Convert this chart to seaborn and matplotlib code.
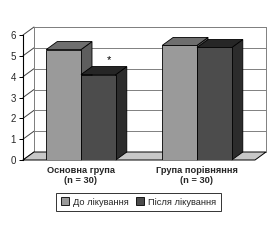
import matplotlib
matplotlib.use("Agg")
import matplotlib.pyplot as plt
import seaborn as sns
import pandas as pd
from matplotlib.patches import Polygon, Patch
from matplotlib.lines import Line2D

groups = ["Основна група\n(n = 30)", "Група порівняння\n(n = 30)"]
periods = ["До лікування", "Після лікування"]
before = [5.3, 5.5]
after = [4.1, 5.4]
yticks = [0, 1, 2, 3, 4, 5, 6]
front_colors = ["#9a9a9a", "#4c4c4c"]
top_colors = ["#6e6e6e", "#262626"]
side_colors = ["#5e5e5e", "#2c2c2c"]

df = pd.DataFrame({
    "group": groups * 2,
    "period": [periods[0]] * 2 + [periods[1]] * 2,
    "value": before + after,
})

sns.set_theme(style="white")
plt.rcParams["font.family"] = ["Liberation Sans", "DejaVu Sans"]

W, H = 280, 240
fig = plt.figure(figsize=(W / 100, H / 100), dpi=100)
ax_l, ax_b, ax_w, ax_h = 23, 80, 232, 125
ax = fig.add_axes([ax_l / W, ax_b / H, ax_w / W, ax_h / H])

sns.barplot(data=df, x="group", y="value", hue="period", palette=front_colors,
            width=0.6, edgecolor="black", linewidth=0.6, legend=False,
            saturation=1, ax=ax)
bars = [p for p in ax.patches]

ax.set_xlim(-0.5, 1.5)
ax.set_ylim(0, 6)
ax.set_yticks(yticks)
ax.set_xlabel("")
ax.set_ylabel("")
ax.set_xticks([0, 1])
ax.set_xticklabels(groups, fontweight="bold", fontsize=6.7, linespacing=1.2)
for s in ["top", "right", "bottom"]:
    ax.spines[s].set_visible(False)
ax.spines["left"].set_color("black")
ax.spines["left"].set_linewidth(0.8)
ax.tick_params(axis="y", direction="out", length=3, width=0.7, color="black",
               labelsize=7, pad=2, left=True)
ax.tick_params(axis="x", length=0, pad=4)
ax.set_xticks([-0.5, 0.5, 1.5], minor=True)
ax.tick_params(axis="x", which="minor", length=3, width=0.7, color="black", direction="out")

# 3D offset (pixels -> data units)
off_px_x, off_px_y = 11, 8
dx = off_px_x / ax_w * 2.0
dy = off_px_y / ax_h * 6.0
x0, x1 = -0.5, 1.5

# back wall
ax.add_patch(Polygon([(x0 + dx, dy), (x1 + dx, dy), (x1 + dx, 6 + dy), (x0 + dx, 6 + dy)],
                     closed=True, facecolor="white", edgecolor="#808080", lw=0.7,
                     zorder=0.2, clip_on=False))
# side wall top edge and gridlines
for yv in yticks:
    ax.add_line(Line2D([x0, x0 + dx], [yv, yv + dy], color="#404040", lw=0.7,
                       zorder=0.4, clip_on=False))
    if yv > 0:
        ax.add_line(Line2D([x0 + dx, x1 + dx], [yv + dy, yv + dy], color="#808080",
                           lw=0.7, zorder=0.4, clip_on=False))
ax.add_line(Line2D([x0 + dx, x0 + dx], [dy, 6 + dy], color="#808080", lw=0.7,
                   zorder=0.4, clip_on=False))
# floor
ax.add_patch(Polygon([(x0, 0), (x1, 0), (x1 + dx, dy), (x0 + dx, dy)], closed=True,
                     facecolor="#c8c8c8", edgecolor="black", lw=0.7, zorder=0.6,
                     clip_on=False))

# 3D bar faces
bars_sorted = sorted(bars, key=lambda p: p.get_x())
for i, p in enumerate(bars_sorted):
    bx, bw, bh = p.get_x(), p.get_width(), p.get_height()
    k = 0 if abs(p.get_facecolor()[0] - matplotlib.colors.to_rgba(front_colors[0])[0]) < 0.05 else 1
    z = 2 + i * 0.1
    ax.add_patch(Polygon([(bx + bw, 0), (bx + bw, bh), (bx + bw + dx, bh + dy), (bx + bw + dx, dy)],
                         closed=True, facecolor=side_colors[k], edgecolor="black", lw=0.6,
                         zorder=z, clip_on=False))
    ax.add_patch(Polygon([(bx, bh), (bx + bw, bh), (bx + bw + dx, bh + dy), (bx + dx, bh + dy)],
                         closed=True, facecolor=top_colors[k], edgecolor="black", lw=0.6,
                         zorder=z, clip_on=False))
    p.set_zorder(z + 0.05)

# significance mark above "after" bar of first group
p2 = [p for p in bars_sorted if abs(p.get_height() - after[0]) < 1e-9][0]
ax.text(p2.get_x() + p2.get_width() / 2 + dx, after[0] + dy + 0.3, "*",
        ha="center", va="center", fontsize=8, color="black", zorder=5)

handles = [Patch(facecolor=front_colors[0], edgecolor="black", lw=0.6),
           Patch(facecolor=front_colors[1], edgecolor="black", lw=0.6)]
leg = fig.legend(handles, periods, loc="center", bbox_to_anchor=(138.5 / W, 1 - 202 / H),
                 ncol=2, fontsize=6.7, frameon=True, fancybox=False, edgecolor="black",
                 handlelength=0.9, handleheight=0.9, handletextpad=0.4, columnspacing=0.8,
                 borderpad=0.5, borderaxespad=0)
leg.get_frame().set_linewidth(0.7)
leg.get_frame().set_facecolor("white")

for t in ax.get_xticklabels():
    t.set_fontweight("bold")

fig.savefig("out.png", dpi=100)
